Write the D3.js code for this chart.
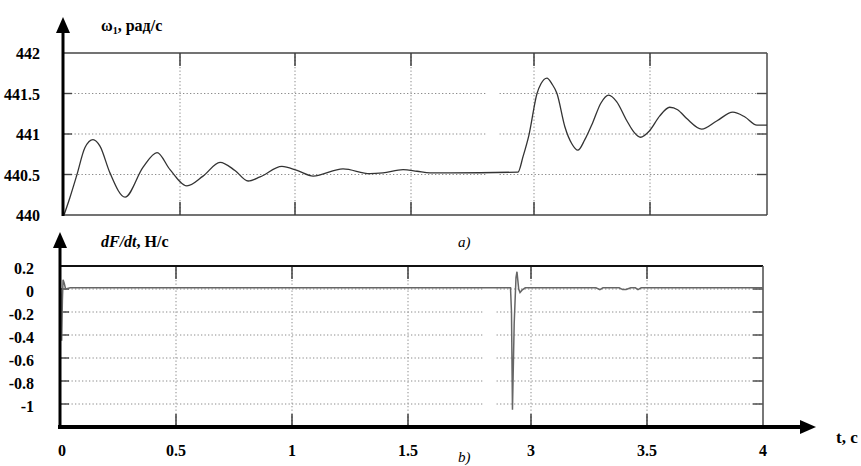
<!DOCTYPE html>
<html><head><meta charset="utf-8">
<script src="https://cdn.jsdelivr.net/npm/d3@7"></script>
<style>
html,body{margin:0;padding:0;background:#fff;}
svg{display:block;}
</style></head>
<body><svg id="c" width="861" height="466" font-family="'Liberation Serif', 'Times New Roman', serif"></svg>
<script>
// ---- data ----
const timeTicks = [0, 0.5, 1, 1.5, 3, 3.5, 4];
const timeTickLabels = ["0", "0.5", "1", "1.5", "3", "3.5", "4"];
const omegaTicks = [440, 440.5, 441, 441.5, 442];
const omegaTickLabels = ["440", "440.5", "441", "441.5", "442"];
const dfTicks = [0.2, 0, -0.2, -0.4, -0.6, -0.8, -1];
const dfTickLabels = ["0.2", "0", "-0.2", "-0.4", "-0.6", "-0.8", "-1"];
const omegaT = [0, 0.026, 0.056, 0.09, 0.125, 0.155, 0.198, 0.263, 0.341, 0.401, 0.457, 0.530, 0.600, 0.674, 0.739, 0.796, 0.848, 0.943, 1.009, 1.078, 1.207, 1.323, 1.379, 1.466, 1.573, 1.732, 1.976, 2.805, 2.866, 2.939, 3.013, 3.030, 3.056, 3.077, 3.099, 3.133, 3.163, 3.189, 3.219, 3.253, 3.288, 3.322, 3.356, 3.399, 3.429, 3.459, 3.498, 3.541, 3.584, 3.618, 3.657, 3.721, 3.785, 3.854, 3.906, 3.957, 4.0];
const omegaV = [440.0, 440.22, 440.5, 440.83, 440.93, 440.85, 440.52, 440.22, 440.59, 440.77, 440.56, 440.36, 440.48, 440.65, 440.55, 440.42, 440.47, 440.60, 440.55, 440.48, 440.57, 440.51, 440.52, 440.56, 440.54, 440.52, 440.52, 440.53, 440.72, 440.99, 441.5, 441.62, 441.69, 441.62, 441.5, 441.09, 440.88, 440.80, 440.93, 441.14, 441.38, 441.48, 441.40, 441.17, 441.03, 440.96, 441.04, 441.22, 441.33, 441.30, 441.19, 441.06, 441.16, 441.27, 441.21, 441.11, 441.11];
const dfT = [0, 0.003, 0.006, 0.009, 0.014, 0.02, 0.04, 1.5, 2.75, 2.762, 2.774, 2.795, 2.817, 2.829, 2.850, 2.866, 2.890, 2.93, 3.28, 3.297, 3.31, 3.38, 3.395, 3.41, 3.43, 3.45, 3.461, 3.475, 4.0];
const dfV = [0.0, -0.45, -0.1, 0.08, 0.05, 0.0, 0.01, 0.01, 0.01, -0.2, -1.05, -0.3, 0.1, 0.15, 0.0, -0.03, -0.01, 0.01, 0.01, -0.005, 0.01, 0.01, -0.005, -0.005, 0.01, 0.01, -0.005, 0.01, 0.01];
const gridBreak = [2.42, 2.58];

const svg = d3.select("#c");

function panel(o) {
  const g = svg.append("g");
  const x = d3.scaleLinear().domain(timeTicks).range(o.xr);
  const y = d3.scaleLinear().domain(o.yd).range(o.yr);
  const x0 = o.xr[0], x1 = o.xr[o.xr.length - 1];
  const yTop = o.yr[1], yBot = o.yr[0];
  o.hGrid.forEach(v => {
    const yy = y(v);
    [[x0, x(gridBreak[0])], [x(gridBreak[1]), x1]].forEach(s => {
      g.append("line").attr("x1", s[0]).attr("x2", s[1]).attr("y1", yy).attr("y2", yy)
        .attr("stroke", "#8a8a8a").attr("stroke-width", 1).attr("stroke-dasharray", "1.3,2.2");
    });
    g.append("line").attr("x1", x0).attr("x2", x0 + 8).attr("y1", yy).attr("y2", yy).attr("stroke", "#444").attr("stroke-width", 1.4);
    g.append("line").attr("x1", x1 - 10).attr("x2", x1).attr("y1", yy).attr("y2", yy).attr("stroke", "#444").attr("stroke-width", 1.4);
  });
  timeTicks.slice(1, -1).forEach(t => {
    const xx = x(t);
    g.append("line").attr("x1", xx).attr("x2", xx).attr("y1", yTop).attr("y2", yBot)
      .attr("stroke", "#8a8a8a").attr("stroke-width", 1).attr("stroke-dasharray", "1.3,2.2");
    g.append("line").attr("x1", xx).attr("x2", xx).attr("y1", yTop).attr("y2", yTop + 13).attr("stroke", "#333").attr("stroke-width", 1.4);
    g.append("line").attr("x1", xx).attr("x2", xx).attr("y1", yBot - 13).attr("y2", yBot).attr("stroke", "#333").attr("stroke-width", 1.4);
  });
  g.append("line").attr("x1", x0).attr("x2", x1).attr("y1", yTop).attr("y2", yTop).attr("stroke", o.topColor).attr("stroke-width", o.topW);
  g.append("line").attr("x1", x1).attr("x2", x1).attr("y1", yTop).attr("y2", yBot).attr("stroke", "#555").attr("stroke-width", 1.6);
  o.yTicks.forEach((v, i) => {
    g.append("text").attr("x", o.labelX).attr("y", y(v) + o.labelDy).attr("text-anchor", "end")
      .attr("font-size", 16).attr("font-weight", "bold").text(o.yLabels[i]);
  });
  const pts = o.t.map((t, i) => [t, o.v[i]]);
  g.append("path").datum(pts)
    .attr("d", d3.line().x(d => x(d[0])).y(d => y(d[1])).curve(o.curve))
    .attr("fill", "none").attr("stroke", o.lineColor).attr("stroke-width", o.lineW);
  return {g, x, y};
}

// ---- top panel (a) ----
const topP = panel({
  xr: [64, 180, 295, 411, 534, 650, 767], yd: [440, 442], yr: [215, 53],
  hGrid: [440.5, 441, 441.5], yTicks: omegaTicks, yLabels: omegaTickLabels,
  labelX: 40, labelDy: 6, topColor: "#444", topW: 1.6,
  t: omegaT, v: omegaV, curve: d3.curveMonotoneX, lineColor: "#333", lineW: 1.3
});
topP.g.append("line").attr("x1", 64).attr("x2", 767).attr("y1", 215).attr("y2", 215).attr("stroke", "#444").attr("stroke-width", 1.6);
topP.g.append("line").attr("x1", 63).attr("x2", 63).attr("y1", 216).attr("y2", 30).attr("stroke", "#000").attr("stroke-width", 3);
topP.g.append("path").attr("d", "M63,17 L56,33 L70,33 Z").attr("fill", "#000");
const tl = topP.g.append("text").attr("x", 101).attr("y", 31).attr("font-size", 16).attr("font-weight", "bold");
tl.append("tspan").text("ω");
tl.append("tspan").attr("font-size", 10).attr("dy", 3).text("1");
tl.append("tspan").attr("dy", -3).text(", рад/с");
topP.g.append("text").attr("x", 458).attr("y", 247).attr("font-size", 15).attr("font-style", "italic").text("a)");

// ---- bottom panel (b) ----
const botP = panel({
  xr: [61, 176, 292, 408, 531, 647, 763], yd: [-1.2, 0.2], yr: [427, 266],
  hGrid: [0, -0.2, -0.4, -0.6, -0.8, -1], yTicks: dfTicks, yLabels: dfTickLabels,
  labelX: 34, labelDy: 8, topColor: "#111", topW: 2,
  t: dfT, v: dfV, curve: d3.curveLinear, lineColor: "#666", lineW: 1.5
});
botP.g.append("line").attr("x1", 58).attr("x2", 803).attr("y1", 427).attr("y2", 427).attr("stroke", "#000").attr("stroke-width", 4);
botP.g.append("path").attr("d", "M816,427 L800,420 L800,434 Z").attr("fill", "#000");
botP.g.append("line").attr("x1", 60).attr("x2", 60).attr("y1", 429).attr("y2", 244).attr("stroke", "#000").attr("stroke-width", 3);
botP.g.append("path").attr("d", "M60,232 L53,248 L67,248 Z").attr("fill", "#000");
timeTicks.forEach((t, i) => {
  botP.g.append("text").attr("x", botP.x(t) + (i === 0 ? 1 : 0)).attr("y", 456).attr("text-anchor", "middle")
    .attr("font-size", 16).attr("font-weight", "bold").text(timeTickLabels[i]);
});
const bl = botP.g.append("text").attr("x", 101).attr("y", 247).attr("font-size", 16).attr("font-weight", "bold");
bl.append("tspan").attr("font-style", "italic").text("dF/dt");
bl.append("tspan").text(", Н/с");
botP.g.append("text").attr("x", 458).attr("y", 462).attr("font-size", 15).attr("font-style", "italic").text("b)");
botP.g.append("text").attr("x", 836).attr("y", 443).attr("font-size", 17).attr("font-weight", "bold").text("t, c");
</script></body></html>
